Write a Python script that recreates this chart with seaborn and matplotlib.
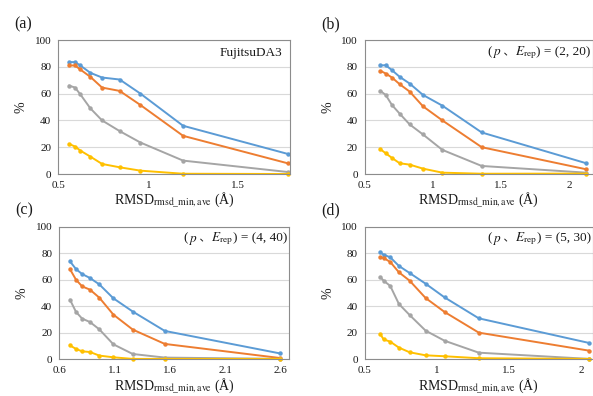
import pandas as pd
import matplotlib
matplotlib.use('Agg')
import matplotlib.pyplot as plt
from matplotlib.ticker import MultipleLocator
from matplotlib.offsetbox import TextArea, HPacker, AnchoredOffsetbox
import seaborn as sns

# Data (x = RMSD, y = %)
series_names = ['s1', 's2', 's3', 's4']
colors = ['#5B9BD5', '#ED7D31', '#A5A5A5', '#FFC000']

x_a = [0.559, 0.593, 0.622, 0.678, 0.743, 0.841, 0.956, 1.193, 1.774]
a_s1 = [83.5, 83.5, 81.0, 75.5, 72.0, 70.5, 60.0, 36.0, 15.0]
a_s2 = [81.0, 81.0, 78.0, 72.5, 64.5, 62.0, 51.5, 28.5, 8.0]
a_s3 = [66.0, 64.5, 59.5, 49.0, 40.0, 32.0, 23.5, 10.0, 1.5]
a_s4 = [22.5, 20.5, 17.5, 13.0, 7.5, 5.0, 2.5, 0.2, 0.0]

x_b = [0.615, 0.654, 0.700, 0.757, 0.830, 0.928, 1.070, 1.359, 2.127]
b_s1 = [81.0, 81.2, 77.5, 72.5, 67.5, 59.0, 51.0, 31.0, 8.0]
b_s2 = [77.0, 75.0, 72.0, 67.0, 61.5, 50.5, 40.0, 20.0, 3.5]
b_s3 = [62.0, 59.0, 51.5, 45.0, 37.0, 29.5, 18.0, 6.0, 1.0]
b_s4 = [18.5, 15.5, 12.0, 8.0, 7.0, 4.0, 1.0, 0.2, 0.3]

x_c = [0.696, 0.751, 0.806, 0.877, 0.961, 1.088, 1.263, 1.552, 2.588]
c_s1 = [73.9, 68.0, 64.3, 61.3, 56.5, 46.0, 36.0, 21.4, 4.5]
c_s2 = [68.0, 60.0, 55.0, 52.5, 46.5, 33.7, 22.4, 11.6, 1.0]
c_s3 = [45.0, 35.7, 30.7, 28.1, 22.6, 11.3, 4.0, 1.3, 0.3]
c_s4 = [10.5, 7.8, 6.0, 5.5, 2.8, 1.5, 0.3, 0.3, 0.3]

x_d = [0.608, 0.631, 0.677, 0.737, 0.811, 0.922, 1.053, 1.290, 2.055]
d_s1 = [80.7, 78.9, 76.9, 70.4, 65.1, 57.0, 46.7, 30.9, 12.3]
d_s2 = [76.9, 76.4, 73.4, 65.6, 59.3, 46.2, 35.7, 20.1, 6.5]
d_s3 = [62.0, 59.3, 55.3, 41.7, 33.4, 21.6, 14.0, 5.0, 0.3]
d_s4 = [19.0, 15.0, 13.3, 8.8, 5.3, 3.0, 2.3, 0.8, 0.3]

panel_labels = ['(a)', '(b)', '(c)', '(d)']
xlims = [(0.5, 1.787), (0.5, 2.176), (0.6, 2.676), (0.5, 2.081)]
x_tick_offset = [0.0, 0.0, 0.1, 0.0]
params = [None, (2, 20), (4, 40), (5, 30)]

sns.set_style('white')
plt.rcParams['font.family'] = ['Liberation Serif', 'Noto Sans CJK JP']
plt.rcParams['mathtext.fontset'] = 'stix'

SERIF = ['Liberation Serif', 'Noto Sans CJK JP']
INK = '#1a1a1a'


def make_df(x, ys):
    rows = []
    for name, y in zip(series_names, ys):
        for xi, yi in zip(x, y):
            rows.append({'rmsd': xi, 'pct': yi, 'series': name})
    return pd.DataFrame(rows)


def param_label(ax, p, e):
    tp = dict(fontsize=9.5, family=SERIF, color=INK)
    parts = [
        TextArea('(', textprops=tp),
        TextArea('$p$', textprops=tp),
        TextArea(' 、', textprops=dict(tp, family=['Noto Sans CJK JP'], fontsize=8)),
        TextArea('$E_{\\mathrm{rep}}$', textprops=tp),
        TextArea(f') = ({p}, {e})', textprops=tp),
    ]
    box = HPacker(children=parts, align='baseline', pad=0, sep=0)
    anch = AnchoredOffsetbox(loc='upper right', child=box, frameon=False,
                             bbox_to_anchor=(0.99, 0.97),
                             bbox_transform=ax.transAxes, borderpad=0, pad=0)
    ax.add_artist(anch)


fig = plt.figure(figsize=(5.93, 3.96), dpi=100)
rects = [
    [58.3 / 593, 1 - 174 / 396, (290 - 58.3) / 593, 134 / 396],
    [364.7 / 593, 1 - 174 / 396, (593 - 364.7) / 593, 134 / 396],
    [59.3 / 593, 1 - 359.3 / 396, (289.3 - 59.3) / 593, 132.6 / 396],
    [364.7 / 593, 1 - 359.3 / 396, (593 - 364.7) / 593, 132.6 / 396],
]
panel_data = [
    (x_a, [a_s1, a_s2, a_s3, a_s4]),
    (x_b, [b_s1, b_s2, b_s3, b_s4]),
    (x_c, [c_s1, c_s2, c_s3, c_s4]),
    (x_d, [d_s1, d_s2, d_s3, d_s4]),
]

for i, (x, ys) in enumerate(panel_data):
    ax = fig.add_axes(rects[i])
    df = make_df(x, ys)
    sns.lineplot(data=df, x='rmsd', y='pct', hue='series', palette=colors,
                 marker='o', markersize=3.2, markeredgewidth=0, linewidth=1.4,
                 legend=False, sort=False, ax=ax)
    for ln in ax.lines:
        ln.set_clip_on(False)

    ax.set_xlim(*xlims[i])
    ax.set_ylim(0, 100)
    ax.xaxis.set_major_locator(MultipleLocator(0.5, offset=x_tick_offset[i]))
    ax.xaxis.set_minor_locator(MultipleLocator(0.1))
    ax.yaxis.set_major_locator(MultipleLocator(20))
    ax.yaxis.set_minor_locator(MultipleLocator(10))
    ax.grid(axis='y', color='#D9D9D9', linewidth=0.8)
    ax.set_axisbelow(True)
    for sp in ax.spines.values():
        sp.set_color('#8C8C8C')
        sp.set_linewidth(0.8)
    ax.tick_params(which='both', direction='in', color='#8C8C8C',
                   labelsize=8, labelcolor=INK)
    ax.tick_params(which='major', length=3, pad=5)
    ax.tick_params(which='minor', length=2)
    ax.xaxis.set_major_formatter(plt.FuncFormatter(lambda v, _: f'{round(v, 3):g}'))

    ax.set_xlabel('RMSD$_{\\mathrm{rmsd\\_min,ave}}$ (Å)', fontsize=10,
                  labelpad=1, color=INK)
    ax.set_ylabel('%', fontsize=10, labelpad=5, color=INK)

    ax.text(-0.19, 1.12, panel_labels[i], transform=ax.transAxes,
            fontsize=11.5, ha='left', va='center', color=INK)

    if params[i] is None:
        ax.text(0.965, 0.9, 'FujitsuDA3', transform=ax.transAxes,
                fontsize=9.5, ha='right', va='center', color=INK)
    else:
        param_label(ax, *params[i])

fig.savefig('out.png', dpi=100)
